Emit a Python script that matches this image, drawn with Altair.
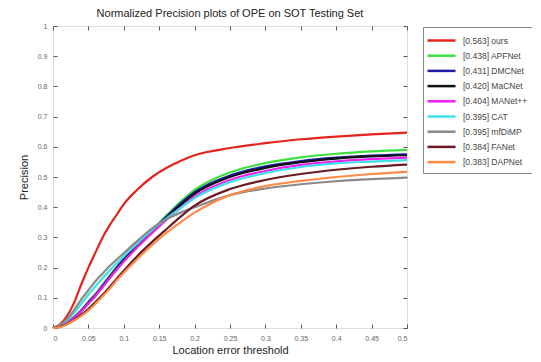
import altair as alt
import pandas as pd

thresholds = [0, 0.01, 0.02, 0.03, 0.04, 0.05, 0.06, 0.07, 0.08, 0.09, 0.1,
              0.12, 0.14, 0.16, 0.18, 0.2, 0.25, 0.3, 0.35, 0.4, 0.45, 0.5]

names = ["[0.563] ours", "[0.438] APFNet", "[0.431] DMCNet", "[0.420] MaCNet",
         "[0.404] MANet++", "[0.395] CAT", "[0.395] mfDiMP", "[0.384] FANet",
         "[0.383] DAPNet"]
colors = ["#e3241c", "#3ee03e", "#1c1ca8", "#111111", "#f020f0",
          "#40e0e8", "#8a8a8a", "#6a1a22", "#ff8a48"]

ours   = [0, 0.012, 0.04, 0.085, 0.145, 0.2, 0.25, 0.30, 0.34, 0.375, 0.41, 0.46, 0.50, 0.53, 0.553, 0.572, 0.596, 0.612, 0.625, 0.634, 0.641, 0.647]
apfnet = [0, 0.005, 0.018, 0.036, 0.06, 0.087, 0.113, 0.143, 0.173, 0.203, 0.23, 0.28, 0.325, 0.372, 0.418, 0.457, 0.515, 0.546, 0.565, 0.577, 0.585, 0.59]
dmcnet = [0, 0.005, 0.018, 0.035, 0.058, 0.085, 0.11, 0.14, 0.17, 0.2, 0.227, 0.277, 0.322, 0.368, 0.412, 0.45, 0.505, 0.535, 0.553, 0.564, 0.571, 0.575]
macnet = [0, 0.005, 0.017, 0.034, 0.056, 0.082, 0.107, 0.136, 0.166, 0.195, 0.222, 0.272, 0.318, 0.363, 0.406, 0.444, 0.5, 0.53, 0.549, 0.561, 0.568, 0.572]
manet  = [0, 0.005, 0.017, 0.034, 0.056, 0.082, 0.107, 0.136, 0.165, 0.194, 0.22, 0.27, 0.315, 0.358, 0.398, 0.435, 0.49, 0.52, 0.54, 0.552, 0.559, 0.564]
cat    = [0, 0.008, 0.025, 0.05, 0.08, 0.11, 0.138, 0.165, 0.19, 0.215, 0.238, 0.282, 0.325, 0.362, 0.397, 0.43, 0.483, 0.513, 0.533, 0.545, 0.551, 0.556]
mfdimp = [0, 0.01, 0.03, 0.06, 0.095, 0.125, 0.155, 0.18, 0.205, 0.227, 0.248, 0.29, 0.33, 0.36, 0.382, 0.40, 0.44, 0.462, 0.476, 0.486, 0.493, 0.498]
fanet  = [0, 0.004, 0.013, 0.027, 0.044, 0.063, 0.086, 0.11, 0.136, 0.163, 0.19, 0.24, 0.285, 0.327, 0.368, 0.405, 0.46, 0.49, 0.51, 0.524, 0.534, 0.541]
dapnet = [0, 0.003, 0.012, 0.025, 0.04, 0.058, 0.08, 0.105, 0.13, 0.158, 0.183, 0.23, 0.275, 0.315, 0.35, 0.382, 0.44, 0.47, 0.487, 0.5, 0.51, 0.517]

series = [ours, apfnet, dmcnet, macnet, manet, cat, mfdimp, fanet, dapnet]

x_ticks = [0, 0.05, 0.1, 0.15, 0.2, 0.25, 0.3, 0.35, 0.4, 0.45, 0.5]
y_ticks = [0, 0.1, 0.2, 0.3, 0.4, 0.5, 0.6, 0.7, 0.8, 0.9, 1]

rows = []
for i, (n, vals) in enumerate(zip(names, series)):
    for t, v in zip(thresholds, vals):
        rows.append({"method": n, "thr": t, "prec": v, "order": len(names) - i})
df = pd.DataFrame(rows)

FONT = "Liberation Sans"

xscale = alt.Scale(domain=[0, 0.5], nice=False)
yscale = alt.Scale(domain=[0, 1], nice=False)

lines = alt.Chart(df).mark_line(strokeWidth=2.2, interpolate="monotone").encode(
    x=alt.X("thr:Q", scale=xscale, title="Location error threshold",
            axis=alt.Axis(values=x_ticks, format="~g", domain=False, offset=-4,
                          tickSize=4, tickColor="#555", labelPadding=6,
                          labelFontSize=7, labelColor="#666", labelFont=FONT,
                          titleFont=FONT, titleFontSize=11, titleFontWeight="normal",
                          titleColor="#222", titlePadding=3, grid=False)),
    y=alt.Y("prec:Q", scale=yscale, title="Precision",
            axis=alt.Axis(values=y_ticks, format="~g", domain=False, offset=-4,
                          tickSize=4, tickColor="#555", labelPadding=6,
                          labelFontSize=7, labelColor="#666", labelFont=FONT,
                          titleFont=FONT, titleFontSize=11, titleFontWeight="normal",
                          titleColor="#222", titlePadding=8, grid=False)),
    color=alt.Color("method:N", scale=alt.Scale(domain=names, range=colors),
                    sort=names,
                    legend=alt.Legend(title=None, orient="none", legendX=370, legendY=1,
                                      symbolType="M-2,0H2", symbolStrokeWidth=2.5,
                                      symbolSize=196, symbolOffset=5,
                                      labelFont=FONT, labelFontSize=8.5,
                                      labelColor="#444", rowPadding=1.2,
                                      labelOffset=13,
                                      strokeColor="#888", padding=5,
                                      fillColor="white", labelLimit=300)),
    detail="method:N",
    order=alt.Order("order:Q"),
)

frame = alt.Chart(df).mark_line(opacity=0).encode(
    x=alt.X("thr:Q", scale=xscale,
            axis=alt.Axis(orient="top", values=x_ticks, labels=False, domain=False,
                          offset=-4, tickSize=4, tickColor="#555", title=None, grid=False)),
    y=alt.Y("prec:Q", scale=yscale,
            axis=alt.Axis(orient="right", values=y_ticks, labels=False, domain=False,
                          offset=-4, tickSize=4, tickColor="#555", title=None, grid=False)),
    detail="method:N",
)

chart = alt.layer(lines, frame).resolve_scale(x="independent", y="independent").properties(
    width=354, height=302,
    title=alt.TitleParams("Normalized Precision plots of OPE on SOT Testing Set",
                          font=FONT, fontSize=11, fontWeight="normal", color="#222",
                          anchor="middle", offset=3),
    autosize=alt.AutoSizeParams(type="none"),
    padding={"left": 45, "top": 18, "right": 125, "bottom": 30},
).configure_view(stroke="#555", strokeWidth=1).configure(background="white")

chart.save("out.html", embed_options={"renderer": "svg", "actions": False})
